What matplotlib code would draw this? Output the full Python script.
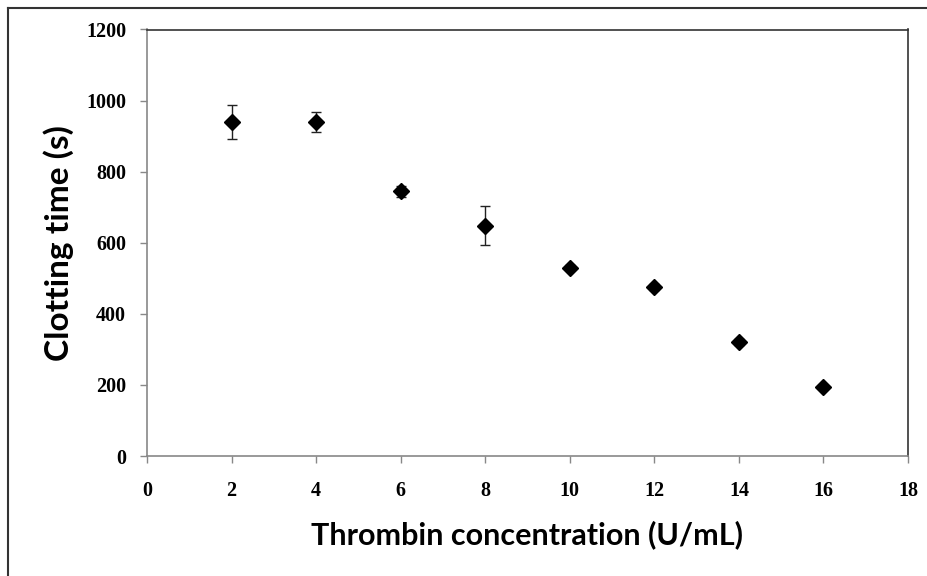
import numpy as np
import matplotlib
matplotlib.use('Agg')
import matplotlib.pyplot as plt
from matplotlib.lines import Line2D

# thrombin concentration (U/mL) and clotting time (s)
conc = [2, 4, 6, 8, 10, 12, 14, 16]
clot_time = [940, 940, 745, 648, 530, 476, 320, 195]
clot_err = [47, 28, 15, 55, 8, 8, 8, 6]

xticks = [0, 2, 4, 6, 8, 10, 12, 14, 16, 18]
yticks = [0, 200, 400, 600, 800, 1000, 1200]

fig = plt.figure(figsize=(9.28, 5.76), dpi=100)
ax = fig.add_axes([147/928, 1 - 456/576, (908-147)/928, (456-29.5)/576])

ax.errorbar(conc, clot_time, yerr=clot_err, fmt='D', color='black',
            markersize=8.5, ecolor='#222222', elinewidth=1, capsize=3.6, capthick=1)

ax.set_xlim(0, 18)
ax.set_ylim(0, 1200)
ax.set_xticks(xticks)
ax.set_yticks(yticks)

tick_font = dict(family='Liberation Serif', size=14.5, weight='bold')
ax.set_xticklabels([str(t) for t in xticks], fontdict=tick_font)
ax.set_yticklabels([str(t) for t in yticks], fontdict=tick_font)
ax.tick_params(direction='out', length=5, width=1, color='#888888')
ax.tick_params(axis='x', pad=13)
ax.tick_params(axis='y', pad=10)

ax.spines['left'].set_color('#888888')
ax.spines['bottom'].set_color('#888888')
ax.spines['top'].set_color('#333333')
ax.spines['right'].set_color('#333333')
for s in ax.spines.values():
    s.set_linewidth(1.2)

ax.set_xlabel('Thrombin concentration (U/mL)', fontsize=22, fontweight='bold',
              family='Lato', labelpad=14)
ax.set_ylabel('Clotting time (s)', fontsize=24, fontweight='bold',
              family='Lato', labelpad=9)

# outer frame (only top and left edges fall inside the picture)
fig.add_artist(Line2D([8/928, 1], [1 - 8/576, 1 - 8/576], transform=fig.transFigure,
                      color='#333333', linewidth=1.5))
fig.add_artist(Line2D([8/928, 8/928], [0, 1 - 8/576], transform=fig.transFigure,
                      color='#333333', linewidth=1.5))

fig.savefig('out.png', dpi=100)
